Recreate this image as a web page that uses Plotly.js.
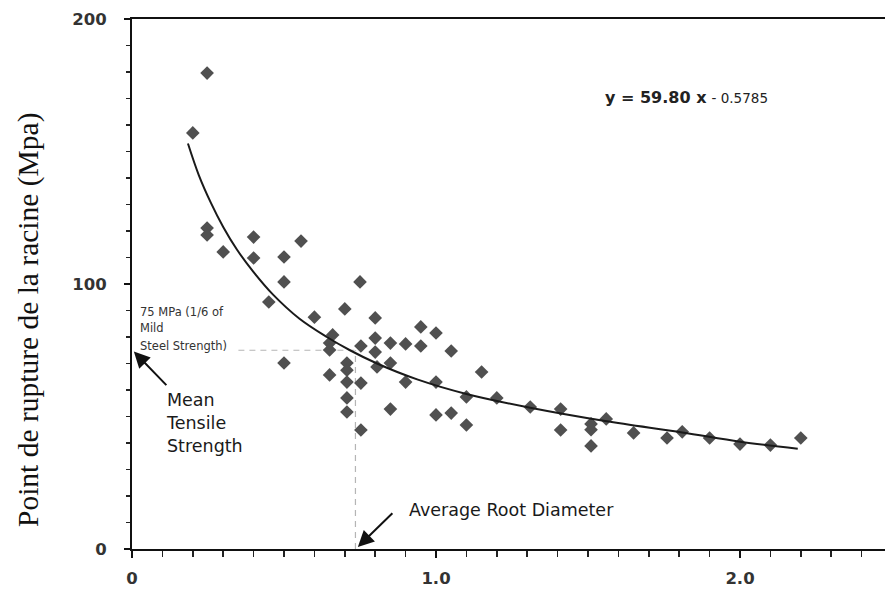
<!DOCTYPE html>
<html>
<head>
<meta charset="utf-8">
<script src="https://cdn.plot.ly/plotly-3.0.1.min.js"></script>
<style>html,body{margin:0;padding:0;background:#fff;}#chart{width:885px;height:591px;}</style>
</head>
<body>
<div id="chart"></div>
<script>
// Root diameter (mm) of each measured sample
const diameter = [
  0.247, 0.20, 0.247, 0.247, 0.30, 0.40, 0.40, 0.50, 0.556, 0.50,
  0.75, 0.45, 0.60, 0.70, 0.80, 0.95, 1.00, 0.66, 0.65, 0.65,
  0.753, 0.80, 0.80, 0.85, 0.90, 0.95, 1.05, 0.50, 0.707, 0.707,
  0.65, 0.806, 0.85, 0.707, 0.753, 0.90, 1.00, 1.15, 0.707, 0.707,
  0.85, 1.00, 1.05, 1.10, 0.753, 1.10, 1.20, 1.31, 1.41, 1.56,
  1.41, 1.51, 1.51, 1.51, 1.65, 1.76, 1.81, 1.90, 2.00, 2.10, 2.20
];
// Tensile strength at rupture (MPa)
const strength = [
  179.6, 157.0, 121.1, 118.5, 112.1, 117.7, 109.8, 110.2, 116.2, 100.8,
  100.8, 93.2, 87.5, 90.6, 87.2, 83.8, 81.5, 80.8, 77.7, 75.1,
  76.6, 79.6, 74.3, 77.7, 77.4, 76.6, 74.7, 70.2, 70.2, 67.5,
  65.7, 68.7, 70.2, 63.0, 62.6, 63.0, 63.0, 66.8, 57.0, 51.7,
  52.8, 50.6, 51.3, 46.8, 44.9, 57.4, 57.0, 53.6, 52.8, 49.1,
  44.9, 47.2, 45.0, 38.9, 43.8, 41.9, 44.2, 41.9, 39.6, 39.2, 41.9
];
// Fitted power curve (y = 59.80 x^-0.5785)
const curveX = [0.184, 0.22, 0.26, 0.30, 0.345, 0.40, 0.464, 0.55, 0.641, 0.717, 0.806, 0.938, 1.10, 1.31, 1.556, 1.81, 2.00, 2.19];
const curveY = [153.0, 141.0, 130.5, 121.5, 113.0, 104.5, 96.0, 87.0, 80.0, 75.0, 70.0, 64.0, 58.5, 53.3, 48.3, 44.0, 40.5, 37.8];

const xTickVals = [0, 1, 2];
const xTickText = ['0', '1.0', '2.0'];
const yTickVals = [0, 100, 200];
const yTickText = ['0', '100', '200'];

const meanStrength = 75;     // MPa
const meanDiameter = 0.735;  // mm

const equationMain = 'y = 59.80 x';
const equationExp = '- 0.5785';
const yTitle = 'Point de rupture de la racine (Mpa)';

const sans = 'DejaVu Sans, Arial, sans-serif';

// pixel -> paper helpers (plot area: x 132..885, y 19..549)
const px = v => (v - 132) / 753;
const py = v => 1 - (v - 19) / 530;

const traces = [
  {
    x: [meanDiameter, meanDiameter], y: [0, meanStrength],
    mode: 'lines', line: {color: '#b5b5b5', width: 1.2, dash: '6px,5px'},
    hoverinfo: 'skip', showlegend: false
  },
  {
    x: [0.35, meanDiameter], y: [meanStrength, meanStrength],
    mode: 'lines', line: {color: '#b5b5b5', width: 1.2, dash: '6px,5px'},
    hoverinfo: 'skip', showlegend: false
  },
  {
    x: diameter, y: strength, mode: 'markers',
    marker: {symbol: 'diamond', size: 10.5, color: '#505050', line: {width: 0}},
    showlegend: false
  },
  {
    x: curveX, y: curveY, mode: 'lines',
    line: {color: '#1a1a1a', width: 2, shape: 'spline', smoothing: 1},
    showlegend: false
  }
];

const layout = {
  width: 885, height: 591,
  margin: {l: 132, r: 0, t: 19, b: 42, pad: 0},
  paper_bgcolor: '#ffffff', plot_bgcolor: '#ffffff',
  showlegend: false,
  font: {family: sans, color: '#222'},
  xaxis: {
    range: [0, 2.477], showgrid: false, zeroline: false,
    showline: true, linecolor: '#111', linewidth: 2, mirror: true,
    tickmode: 'array', tickvals: xTickVals, ticktext: xTickText,
    ticks: 'outside', ticklen: 7, tickwidth: 2, tickcolor: '#111',
    ticklabelstandoff: 6,
    tickfont: {family: sans, size: 16.5, color: '#333', weight: 'bold'},
    minor: {dtick: 0.1, tick0: 0, ticks: 'outside', ticklen: 6, tickwidth: 1.5, tickcolor: '#222', showgrid: false}
  },
  yaxis: {
    range: [0, 200], showgrid: false, zeroline: false,
    showline: true, linecolor: '#111', linewidth: 2,
    tickmode: 'array', tickvals: yTickVals, ticktext: yTickText,
    ticks: 'outside', ticklen: 6, tickwidth: 2, tickcolor: '#111',
    ticklabelstandoff: 14,
    tickfont: {family: sans, size: 16.5, color: '#333', weight: 'bold'},
    minor: {dtick: 10, tick0: 0, ticks: 'outside', ticklen: 4, tickwidth: 1.5, tickcolor: '#222', showgrid: false}
  },
  annotations: [
    {
      xref: 'paper', yref: 'paper', x: px(28), y: py(320),
      xanchor: 'center', yanchor: 'middle', textangle: -90, showarrow: false,
      text: yTitle,
      font: {family: 'Liberation Serif, Times New Roman, serif', size: 29.5, color: '#111'}
    },
    {
      xref: 'paper', yref: 'paper', x: px(603), y: py(98),
      xanchor: 'left', yanchor: 'middle', showarrow: false,
      text: '<b>' + equationMain + '</b> <span style="font-size:13.5px">' + equationExp + '</span>',
      font: {family: sans, size: 16, color: '#222'}
    },
    {
      xref: 'paper', yref: 'paper', x: px(138), y: py(312),
      xanchor: 'left', yanchor: 'middle', showarrow: false,
      text: '75 MPa (1/6 of', font: {family: sans, size: 11.5, color: '#333'}
    },
    {
      xref: 'paper', yref: 'paper', x: px(138), y: py(328),
      xanchor: 'left', yanchor: 'middle', showarrow: false,
      text: 'Mild', font: {family: sans, size: 11.5, color: '#333'}
    },
    {
      xref: 'paper', yref: 'paper', x: px(138), y: py(346),
      xanchor: 'left', yanchor: 'middle', showarrow: false,
      text: 'Steel Strength)', font: {family: sans, size: 11.5, color: '#333'}
    },
    {
      xref: 'paper', yref: 'paper', x: px(164), y: py(423),
      xanchor: 'left', yanchor: 'middle', align: 'left', showarrow: false,
      text: 'Mean<br>Tensile<br>Strength', font: {family: sans, size: 17.5, color: '#1a1a1a'}
    },
    {
      xref: 'paper', yref: 'paper', x: px(407), y: py(510),
      xanchor: 'left', yanchor: 'middle', showarrow: false,
      text: 'Average Root Diameter', font: {family: sans, size: 17.5, color: '#1a1a1a'}
    },
    {
      x: 0.006, y: meanStrength - 0.5, xref: 'x', yref: 'y', text: '',
      showarrow: true, arrowhead: 2, arrowsize: 1.6, arrowwidth: 2, arrowcolor: '#111',
      ax: 34, ay: 35, standoff: 0
    },
    {
      x: meanDiameter + 0.008, y: 0.8, xref: 'x', yref: 'y', text: '',
      showarrow: true, arrowhead: 2, arrowsize: 1.6, arrowwidth: 2, arrowcolor: '#111',
      ax: 36, ay: -35, standoff: 0
    }
  ]
};

Plotly.newPlot('chart', traces, layout, {displayModeBar: false, staticPlot: true});
</script>
</body>
</html>
